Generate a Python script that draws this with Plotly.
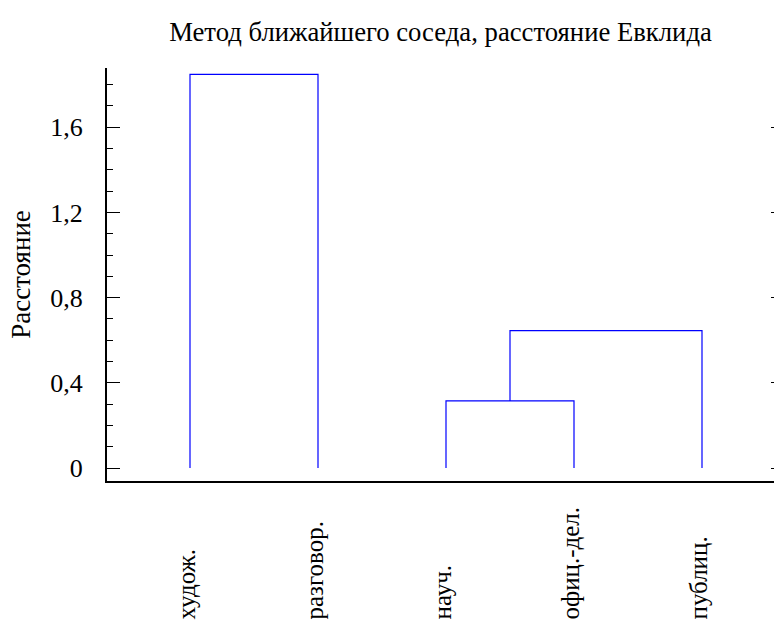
import plotly.graph_objects as go

# ---- data ----
labels = ["худож.", "разговор.", "науч.", "офиц.-дел.", "публиц."]
leaf_pos = [1, 2, 3, 4, 5]
# linkage: cluster ids 0..4 are leaves, 5.. are merges in order
merge_left = [0, 2, 6]
merge_right = [1, 3, 4]
merge_height = [1.848, 0.315, 0.645]

y_tickvals = [0, 0.4, 0.8, 1.2, 1.6]
y_ticktext = ["0", "0,4", "0,8", "1,2", "1,6"]

title_text = "Метод ближайшего соседа, расстояние Евклида"
y_title = "Расстояние"

FONT = "Times New Roman, Liberation Serif, DejaVu Serif, serif"
LINE_COLOR = "#0000ff"

# ---- build dendrogram paths ----
pos = {i: p for i, p in enumerate(leaf_pos)}
hgt = {i: 0.0 for i in range(len(leaf_pos))}
fig = go.Figure()
n = len(leaf_pos)
for k, (l, r, h) in enumerate(zip(merge_left, merge_right, merge_height)):
    xs = [pos[l], pos[l], pos[r], pos[r]]
    ys = [hgt[l], h, h, hgt[r]]
    fig.add_trace(go.Scatter(x=xs, y=ys, mode="lines",
                             line=dict(color=LINE_COLOR, width=1.2),
                             hoverinfo="skip", showlegend=False))
    pos[n + k] = (pos[l] + pos[r]) / 2
    hgt[n + k] = h

# invisible trace for the right-side mirrored ticks axis
fig.add_trace(go.Scatter(x=[leaf_pos[0]], y=[0], yaxis="y2", mode="markers",
                         marker=dict(opacity=0), hoverinfo="skip", showlegend=False))

# category labels, rotated, bottom aligned
for p, lab in zip(leaf_pos, labels):
    fig.add_annotation(x=p, xref="x", y=-(622 - 481) / 413, yref="paper",
                       text=lab, textangle=-90, showarrow=False,
                       xanchor="center", yanchor="bottom", xshift=-4,
                       font=dict(family=FONT, size=25, color="black"))

fig.update_layout(
    width=774, height=624,
    margin=dict(l=107, r=0, t=68, b=143),
    paper_bgcolor="white", plot_bgcolor="white",
    font=dict(family=FONT, size=26, color="black"),
    title=dict(text=title_text, x=0.5, xref="paper", xanchor="center",
               y=1 - 32 / 624, yref="container", yanchor="middle",
               font=dict(family=FONT, size=26.7, color="black")),
    xaxis=dict(range=[0.3516, 5.5625], showgrid=False, zeroline=False,
               showticklabels=False, ticks="", showline=True,
               linecolor="black", linewidth=2),
    yaxis=dict(range=[-0.061, 1.878], showgrid=False, zeroline=False,
               tickvals=y_tickvals, ticktext=y_ticktext,
               ticks="inside", ticklen=13, tickwidth=1, tickcolor="black",
               ticklabelstandoff=17,
               tickfont=dict(family=FONT, size=26, color="black"),
               minor=dict(dtick=0.1, ticks="inside", ticklen=6, tickwidth=1,
                          tickcolor="black", showgrid=False),
               showline=True, linecolor="black", linewidth=2,
               title=dict(text=y_title, standoff=12,
                          font=dict(family=FONT, size=27, color="black"))),
    yaxis2=dict(overlaying="y", side="right", matches="y",
                range=[-0.061, 1.878], tickvals=y_tickvals,
                showticklabels=False, ticks="inside", ticklen=3,
                tickcolor="black", showgrid=False, zeroline=False,
                showline=False),
)

fig.write_html("out.html", config={"displayModeBar": False},
               post_script="document.body.style.margin='0';document.body.style.overflow='hidden';")
